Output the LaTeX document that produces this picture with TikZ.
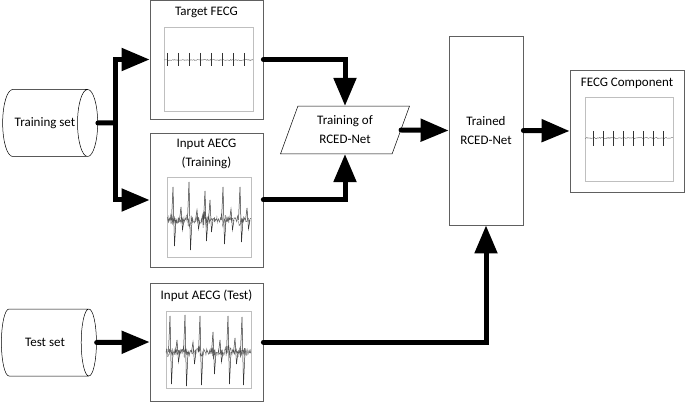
\documentclass[tikz,border=0pt]{standalone}
\usepackage{fontspec}
\setmainfont{Carlito}
\usetikzlibrary{shapes.geometric,arrows.meta}

\begin{document}
\begin{tikzpicture}[x=1pt, y=-1pt,
    font=\fontsize{13}{19}\selectfont,
    box/.style={rectangle, draw=gray!75!black, line width=0.8pt, inner sep=0pt},
    inbox/.style={rectangle, draw=gray!50, line width=0.8pt, inner sep=0pt},
    dataset/.style={cylinder, draw, line width=0.5pt, shape aspect=1.8, minimum width=67pt, minimum height=95pt, inner sep=0pt},
    arr/.style={line width=5pt, line cap=round, -{Triangle[length=28pt, width=22pt]}},
    sig/.style={line width=0.5pt, black!80},
    noise/.style={line width=0.4pt, gray!80!black},
  ]
    \useasboundingbox (0,0) rectangle (685,403);
    \pgfmathsetseed{11}
    % data sets
    \node (trainset) [dataset] at (45,123) {Training set};
    \node (testset) [dataset] at (45,342.5) {Test set};
    % signal boxes
    \node (target) [box, minimum width=113pt, minimum height=119pt] at (206.5,59.5) {};
    \node (targetin) [inbox, minimum width=89pt, minimum height=84pt] at (208.5,69) {};
    \node (targett) at (206.5,12) {Target FECG};
    \node (aecgtr) [box, minimum width=113pt, minimum height=134pt] at (206.5,200) {};
    \node (aecgtrin) [inbox, minimum width=84pt, minimum height=80pt] at (209,217) {};
    \node (aecgtrt) [align=center] at (206.5,154) {Input AECG\\(Training)};
    \node (aecgts) [box, minimum width=113pt, minimum height=118pt] at (206.5,342) {};
    \node (aecgtsin) [inbox, minimum width=85pt, minimum height=77pt] at (208.5,349.5) {};
    \node (aecgtst) at (206.5,296) {Input AECG (Test)};
    % network
    \node (rced) [trapezium, trapezium left angle=70, trapezium right angle=110, draw, line width=0.5pt, minimum width=129pt, minimum height=46pt, inner sep=0pt, align=center] at (345,130) {Training of\\RCED-Net};
    \node (trained) [box, minimum width=74pt, minimum height=189pt, align=center] at (486,130.5) {Trained\\RCED-Net};
    \node (fecg) [box, minimum width=114pt, minimum height=122pt] at (627,131) {};
    \node (fecgin) [inbox, minimum width=88pt, minimum height=84pt] at (629,139) {};
    \node (fecgt) at (627,83) {FECG Component};

    % signals
    \draw[noise] plot[domain=164:253, samples=120, variable=\t] (\t, {60+0.5*rand});
    \foreach \x in {167,178,...,244}
        \draw[sig] (\x,53) -- (\x,66);
    \draw[noise] plot[domain=585:673, samples=120, variable=\t] (\t, {138+0.6*rand});
    \foreach \x in {593,603,...,663}
        \draw[sig] (\x,131) -- (\x,146);
    \draw[noise] plot[domain=167:251, samples=220, variable=\t] (\t, {220+rand*(1.2+6/(1+((\t-173)/3)^2)+6/(1+((\t-189)/3)^2)+9/(1+((\t-205)/3)^2)+6/(1+((\t-223)/3)^2)+6/(1+((\t-240)/3)^2))});
    \foreach \x/\u/\d in {173/33/26, 189/38/30, 205/29/21, 223/33/24, 240/33/22, 181/13/10, 197/10/9, 210/20/12, 231/11/10, 247/12/9}
        \draw[sig] (\x-1.5,220) -- (\x,220-\u) -- (\x+1.5,220+\d) -- (\x+3,220);
    \draw[noise] plot[domain=166:251, samples=220, variable=\t] (\t, {352+rand*(1.5+5/(1+((\t-170)/3)^2)+5/(1+((\t-185)/3)^2)+5/(1+((\t-200)/3)^2)+5/(1+((\t-213)/3)^2)+5/(1+((\t-228)/3)^2)+5/(1+((\t-242)/3)^2))});
    \foreach \x/\u/\d in {170/36/32, 185/37/34, 200/36/33, 213/20/22, 228/36/32, 242/35/33, 177/12/10, 193/10/12, 220/12/10, 235/14/12}
        \draw[sig] (\x-1.5,352) -- (\x,352-\u) -- (\x+1.5,352+\d) -- (\x+3,352);

    % connectors
    \coordinate (split) at (115,123);
    \draw[line width=5pt, line cap=round] (trainset.east) -- (split);
    \draw[arr] (split) |- (target.west);
    \draw[arr] (split) |- (aecgtr.west);
    \draw[arr] (testset.east) -- (aecgts.west);
    \draw[arr] (target.east) -| (rced.north);
    \draw[arr] (aecgtr.east) -| (rced.south);
    \draw[arr] (rced.east) -- (trained.west);
    \draw[arr] (aecgts.east) -| (trained.south);
    \draw[arr] (trained.east) -- (fecg.west);
\end{tikzpicture}
\end{document}
